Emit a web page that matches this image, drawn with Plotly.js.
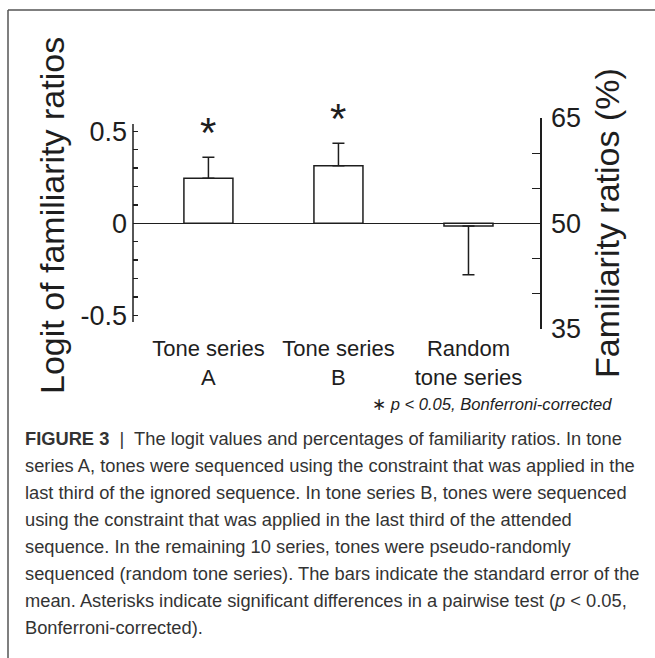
<!DOCTYPE html>
<html>
<head>
<meta charset="utf-8">
<script src="https://cdn.plot.ly/plotly-3.0.1.min.js"></script>
<style>
  html, body { margin: 0; padding: 0; background: #ffffff; }
  #chart { width: 655px; height: 658px; }
</style>
</head>
<body>
<div id="chart"></div>
<script>
// ---- data ----
const categories = ['Tone series<br>A', 'Tone series<br>B', 'Random<br>tone series'];
const logitValues = [0.245, 0.313, -0.015];
const standardErrors = [0.114, 0.122, 0.265];
const significant = [true, true, false];

const leftTickVals = [-0.5, -0.4, -0.3, -0.2, -0.1, 0, 0.1, 0.2, 0.3, 0.4, 0.5];
const leftTickText = ['-0.5', '', '', '', '', '0', '', '', '', '', '0.5'];
const rightTickVals = [35, 40, 45, 50, 55, 60, 65];
const rightTickText = ['35', '', '', '50', '', '', '65'];

const captionLines = [
  '<b>FIGURE 3</b>  |  The logit values and percentages of familiarity ratios. In tone',
  'series A, tones were sequenced using the constraint that was applied in the',
  'last third of the ignored sequence. In tone series B, tones were sequenced',
  'using the constraint that was applied in the last third of the attended',
  'sequence. In the remaining 10 series, tones were pseudo-randomly',
  'sequenced (random tone series). The bars indicate the standard error of the',
  'mean. Asterisks indicate significant differences in a pairwise test (<i>p</i> &lt; 0.05,',
  'Bonferroni-corrected).'
];
const footnote = '∗ <i>p &lt; 0.05, Bonferroni-corrected</i>';

// ---- layout helpers (pixel -> paper) ----
const W = 655, H = 658;
const M = { l: 133, r: 115, t: 118, b: 329 };
const plotW = W - M.l - M.r;
const plotH = H - M.t - M.b;
const px = x => (x - M.l) / plotW;
const py = y => (H - M.b - y) / plotH;

const FONT = 'Liberation Sans, Arial, Helvetica, sans-serif';
const INK = '#1e1e1e';

const barTrace = {
  type: 'bar',
  x: categories,
  y: logitValues,
  width: 0.377,
  marker: { color: '#ffffff', line: { color: INK, width: 1.5 } },
  error_y: {
    type: 'data',
    symmetric: false,
    array: logitValues.map((v, i) => v >= 0 ? standardErrors[i] : 0),
    arrayminus: logitValues.map((v, i) => v < 0 ? standardErrors[i] : 0),
    color: INK,
    thickness: 1.5,
    width: 6
  },
  hoverinfo: 'skip',
  showlegend: false
};

const rightAxisTrace = {
  type: 'scatter', mode: 'markers', x: [], y: [], yaxis: 'y2',
  showlegend: false, hoverinfo: 'skip'
};

const annotations = [];

// significance asterisks
categories.forEach((c, i) => {
  if (!significant[i]) return;
  annotations.push({
    x: c, y: logitValues[i] + standardErrors[i], xref: 'x', yref: 'y',
    text: '*', showarrow: false, yanchor: 'middle', yshift: 25,
    font: { family: FONT, size: 42, color: INK }
  });
});

// axis titles
annotations.push({
  xref: 'paper', yref: 'paper', x: px(52), y: py(216), xanchor: 'center', yanchor: 'middle',
  text: 'Logit of familiarity ratios', textangle: -90, showarrow: false,
  font: { family: FONT, size: 34, color: INK }
});
annotations.push({
  xref: 'paper', yref: 'paper', x: px(607), y: py(223), xanchor: 'center', yanchor: 'middle',
  text: 'Familiarity ratios (%)', textangle: -90, showarrow: false,
  font: { family: FONT, size: 34, color: INK }
});

// footnote
annotations.push({
  xref: 'paper', yref: 'paper', x: px(370), y: py(404), xanchor: 'left', yanchor: 'middle',
  text: footnote, showarrow: false,
  font: { family: FONT, size: 16.6, color: INK }
});

// caption
captionLines.forEach((line, i) => {
  annotations.push({
    xref: 'paper', yref: 'paper', x: px(23), y: py(438 + 27 * i), xanchor: 'left', yanchor: 'middle',
    text: line, showarrow: false, align: 'left',
    font: { family: FONT, size: 18.3, color: '#333333' }
  });
});

const shapes = [
  // left axis line
  { type: 'line', xref: 'paper', yref: 'y', x0: 0, x1: 0, y0: -0.536, y1: 0.54,
    line: { color: INK, width: 1.5 } },
  // frame: top and left rules
  { type: 'line', xref: 'paper', yref: 'paper', x0: px(8), x1: px(655), y0: py(10), y1: py(10),
    line: { color: '#555555', width: 1.5 } },
  { type: 'line', xref: 'paper', yref: 'paper', x0: px(8), x1: px(8), y0: py(10), y1: py(658),
    line: { color: '#555555', width: 1.5 } }
];

const layout = {
  width: W, height: H,
  margin: M,
  paper_bgcolor: '#ffffff',
  plot_bgcolor: '#ffffff',
  showlegend: false,
  font: { family: FONT, color: INK },
  xaxis: {
    type: 'category', range: [-0.58, 2.55],
    showline: false, showgrid: false, zeroline: false, ticks: '',
    tickfont: { family: FONT, size: 22, color: INK },
    ticklabelstandoff: 4
  },
  yaxis: {
    range: [-0.574, 0.572],
    tickvals: leftTickVals, ticktext: leftTickText,
    ticks: 'inside', ticklen: 5, tickwidth: 1.3, tickcolor: INK,
    showline: false, showgrid: false,
    zeroline: true, zerolinecolor: INK, zerolinewidth: 1.5,
    tickfont: { family: FONT, size: 27, color: INK },
    ticklabelstandoff: 5
  },
  yaxis2: {
    overlaying: 'y', side: 'right', anchor: 'x',
    range: [35, 65],
    tickvals: rightTickVals, ticktext: rightTickText,
    ticks: 'inside', ticklen: 8, tickwidth: 1.3, tickcolor: INK,
    showline: true, linecolor: INK, linewidth: 1.5,
    showgrid: false, zeroline: false,
    tickfont: { family: FONT, size: 27, color: INK },
    ticklabelstandoff: 4
  },
  annotations: annotations,
  shapes: shapes
};

Plotly.newPlot('chart', [barTrace, rightAxisTrace], layout, { displayModeBar: false, staticPlot: true });
</script>
</body>
</html>
